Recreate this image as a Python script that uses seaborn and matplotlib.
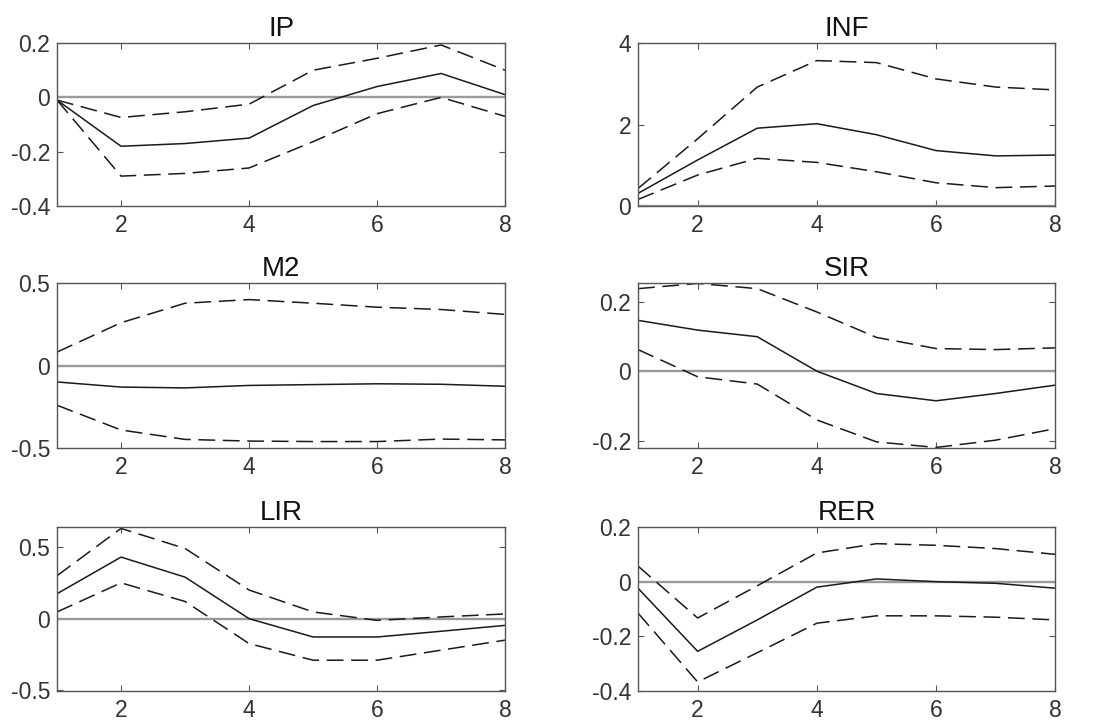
import matplotlib
matplotlib.use("Agg")
import matplotlib.pyplot as plt
import seaborn as sns
from matplotlib.ticker import FuncFormatter

horizon = [1, 2, 3, 4, 5, 6, 7, 8]

# impulse responses: point estimate, upper band, lower band
ip_mid = [-0.01, -0.18, -0.17, -0.15, -0.03, 0.04, 0.088, 0.01]
ip_up = [-0.01, -0.074, -0.053, -0.025, 0.10, 0.144, 0.193, 0.10]
ip_lo = [-0.01, -0.29, -0.28, -0.26, -0.163, -0.06, 0.0, -0.07]

inf_mid = [0.31, 1.13, 1.91, 2.02, 1.75, 1.36, 1.23, 1.25]
inf_up = [0.43, 1.65, 2.92, 3.57, 3.52, 3.12, 2.92, 2.85]
inf_lo = [0.16, 0.76, 1.17, 1.07, 0.84, 0.57, 0.45, 0.49]

m2_mid = [-0.099, -0.13, -0.135, -0.12, -0.115, -0.11, -0.113, -0.125]
m2_up = [0.082, 0.26, 0.378, 0.40, 0.378, 0.354, 0.34, 0.31]
m2_lo = [-0.24, -0.39, -0.447, -0.457, -0.46, -0.46, -0.445, -0.45]

sir_mid = [0.146, 0.118, 0.099, 0.0, -0.064, -0.085, -0.064, -0.04]
sir_up = [0.237, 0.252, 0.237, 0.17, 0.097, 0.065, 0.062, 0.067]
sir_lo = [0.062, -0.016, -0.037, -0.14, -0.203, -0.219, -0.198, -0.165]

lir_mid = [0.174, 0.43, 0.29, 0.0, -0.128, -0.128, -0.088, -0.047]
lir_up = [0.30, 0.63, 0.49, 0.20, 0.047, -0.012, 0.012, 0.033]
lir_lo = [0.047, 0.25, 0.12, -0.174, -0.29, -0.29, -0.22, -0.15]

rer_mid = [-0.024, -0.255, -0.14, -0.02, 0.01, 0.0, -0.006, -0.024]
rer_up = [0.057, -0.133, -0.015, 0.105, 0.139, 0.133, 0.121, 0.10]
rer_lo = [-0.115, -0.367, -0.26, -0.152, -0.125, -0.125, -0.13, -0.14]

panels = [
    ("IP", ip_mid, ip_up, ip_lo, (-0.4, 0.2), [-0.4, -0.2, 0, 0.2]),
    ("INF", inf_mid, inf_up, inf_lo, (0, 4), [0, 2, 4]),
    ("M2", m2_mid, m2_up, m2_lo, (-0.5, 0.5), [-0.5, 0, 0.5]),
    ("SIR", sir_mid, sir_up, sir_lo, (-0.221, 0.253), [-0.2, 0, 0.2]),
    ("LIR", lir_mid, lir_up, lir_lo, (-0.505, 0.64), [-0.5, 0, 0.5]),
    ("RER", rer_mid, rer_up, rer_lo, (-0.4, 0.2), [-0.4, -0.2, 0, 0.2]),
]

sns.set_style("ticks", {"xtick.direction": "in", "ytick.direction": "in"})
plt.rcParams["font.family"] = ["Liberation Sans", "DejaVu Sans"]
plt.rcParams["axes.unicode_minus"] = False

fig = plt.figure(figsize=(11.01, 7.24), dpi=100)

lefts = [0.0518, 0.5795]
widths = [0.407, 0.379]
bottoms = [0.7155, 0.381, 0.0456]
heights = [0.225, 0.228, 0.2265]

for i, (name, mid, up, lo, ylim, yticks) in enumerate(panels):
    r, c = divmod(i, 2)
    ax = fig.add_axes([lefts[c], bottoms[r], widths[c], heights[r]])
    ax.axhline(0, color="#9a9a9a", lw=1.7, zorder=1)
    sns.lineplot(x=horizon, y=mid, ax=ax, color="#1a1a1a", lw=1.1)
    sns.lineplot(x=horizon, y=up, ax=ax, color="#1a1a1a", lw=1.1)
    sns.lineplot(x=horizon, y=lo, ax=ax, color="#1a1a1a", lw=1.1)
    for ln in ax.lines[2:]:
        ln.set_dashes((11, 5))
    ax.set_xlim(1, 8)
    ax.set_ylim(*ylim)
    ax.set_xticks([2, 4, 6, 8])
    ax.set_yticks(yticks)
    ax.yaxis.set_major_formatter(FuncFormatter(lambda v, p: f"{v:g}"))
    ax.tick_params(top=True, right=True, length=4, width=0.8, colors="#555555",
                   labelcolor="#333333", labelsize=16.5)
    ax.tick_params(axis="x", pad=6)
    ax.tick_params(axis="y", pad=5)
    for s in ax.spines.values():
        s.set_color("#555555")
        s.set_linewidth(1.0)
        s.set_zorder(3)
    ax.set_title(name, fontsize=20, color="#111111", pad=5)

fig.savefig("out.png", dpi=100)
